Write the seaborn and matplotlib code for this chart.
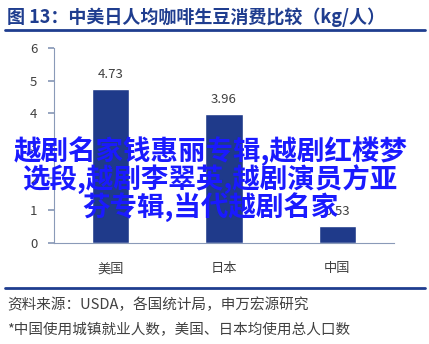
import matplotlib
matplotlib.use("Agg")
import matplotlib.pyplot as plt
import seaborn as sns
import pandas as pd

categories = ["美国", "日本", "中国"]
values = [4.73, 3.96, 0.53]
value_labels = ["4.73", "3.96", "0.53"]
yticks = [0, 1, 2, 3, 4, 5, 6]

sns.set_theme(style="white")
plt.rcParams['font.family'] = ['Noto Sans CJK SC', 'DejaVu Sans']

df = pd.DataFrame({"country": categories, "value": values})

fig = plt.figure(figsize=(4.29, 3.44), dpi=100)
ax = fig.add_axes([0.126, 0.294, 0.792, 0.566])
sns.barplot(data=df, x="country", y="value", color="#1f3a8a", saturation=1,
            width=0.33, ax=ax)
ax.set_ylim(0, 6)
ax.set_yticks(yticks)
ax.set_xlabel("")
ax.set_ylabel("")
for s in ["top", "right"]:
    ax.spines[s].set_visible(False)
for s in ["left", "bottom"]:
    ax.spines[s].set_color("#8a9ab8")
    ax.spines[s].set_linewidth(0.8)
ax.tick_params(axis="y", left=True, length=4, color="#8a9ab8", labelsize=9.5, labelcolor="#404040", pad=8)
ax.tick_params(axis="x", bottom=False, labelsize=9.5, labelcolor="#404040", pad=8)
for p, lab in zip(ax.patches, value_labels):
    ax.text(p.get_x() + p.get_width() / 2, p.get_height() + 0.25, lab,
            ha="center", va="bottom", fontsize=9.5, color="#404040")

# title
fig.text(0.016, 0.95, "图 13：中美日人均咖啡生豆消费比较（kg/人）", fontsize=13,
         fontweight="bold", color="#1f3d8f", ha="left", va="center")
fig.add_artist(plt.Line2D([0.012, 0.99], [0.912, 0.912], color="#1f3d8f", lw=2))
fig.add_artist(plt.Line2D([0.012, 0.99], [0.163, 0.163], color="#1f3d8f", lw=2))
fig.text(0.016, 0.113, "资料来源：USDA，各国统计局，申万宏源研究", fontsize=10.5,
         color="#404040", ha="left", va="center")
fig.text(0.016, 0.04, "*中国使用城镇就业人数，美国、日本均使用总人口数", fontsize=10.5,
         color="#404040", ha="left", va="center")

# overlay text
fig.text(0.49, 0.48, "越剧名家钱惠丽专辑,越剧红楼梦\n选段,越剧李翠英,越剧演员方亚\n芬专辑,当代越剧名家",
         fontsize=19.8, fontweight="bold", color="#1a1aff", ha="center", va="center",
         linespacing=0.92)

fig.savefig("out.png", dpi=100)
